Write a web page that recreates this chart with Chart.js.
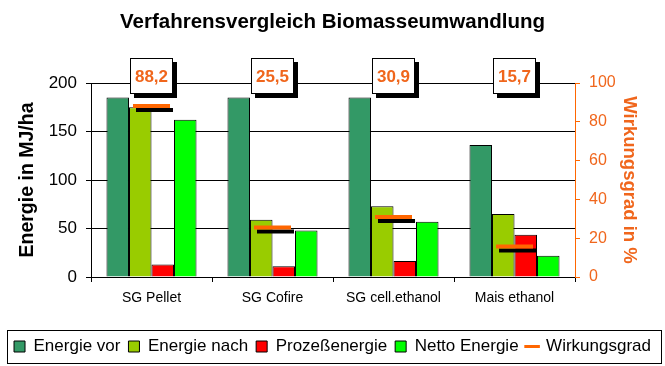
<!DOCTYPE html>
<html><head><meta charset="utf-8">
<script src="https://cdn.jsdelivr.net/npm/chart.js@4/dist/chart.umd.min.js"></script>
<style>html,body{margin:0;padding:0;background:#fff}#wrap{width:665px;height:366px}</style>
</head><body><div id="wrap"><canvas id="c" width="665" height="366"></canvas></div>
<script>
const categories = ['SG Pellet', 'SG Cofire', 'SG cell.ethanol', 'Mais ethanol'];
const energieVor = [185, 185, 185, 136];
const energieNach = [175, 59, 73, 65];
const prozessenergie = [13, 11, 16.5, 43.5];
const nettoEnergie = [162, 48, 57, 22];
const wirkungsgrad = [88.2, 25.5, 30.9, 15.7];
const leftTicks = [0, 50, 100, 150, 200];
const rightTicks = [0, 20, 40, 60, 80, 100];

const ORANGE = '#FF6600';
const ORANGE_TXT = '#F0661C';
const FONT = '"Liberation Sans", Arial, sans-serif';

const labelBoxes = {
  id: 'labelBoxes',
  afterDatasetsDraw(chart) {
    const {ctx, chartArea, scales: {x}} = chart;
    ctx.save();
    ctx.font = 'bold 17px ' + FONT;
    wirkungsgrad.forEach((v, i) => {
      const cx = x.getPixelForValue(i);
      const w = 43, h = 36, top = chartArea.top - 25, left = Math.round(cx - w / 2);
      ctx.fillStyle = '#000';
      ctx.fillRect(left + 4, top + 4, w, h);
      ctx.fillStyle = '#fff';
      ctx.fillRect(left, top, w, h);
      ctx.strokeStyle = '#000';
      ctx.lineWidth = 1;
      ctx.strokeRect(left + 0.5, top + 0.5, w - 1, h - 1);
      ctx.fillStyle = ORANGE_TXT;
      ctx.textAlign = 'center';
      ctx.textBaseline = 'middle';
      ctx.fillText(v.toFixed(1).replace('.', ','), cx, top + h / 2 + 1);
    });
    ctx.restore();
  }
};

const lineShadow = {
  id: 'lineShadow',
  beforeDatasetDraw(chart, args) {
    if (chart.data.datasets[args.index].type === 'line') {
      const ctx = chart.ctx;
      ctx.save();
      ctx.shadowColor = '#000';
      ctx.shadowOffsetX = 3;
      ctx.shadowOffsetY = 4;
      ctx.shadowBlur = 0;
    }
  },
  afterDatasetDraw(chart, args) {
    if (chart.data.datasets[args.index].type === 'line') chart.ctx.restore();
  }
};

const legendBox = {
  id: 'legendBox',
  afterDraw(chart) {
    const lg = chart.legend;
    if (!lg || !lg.legendHitBoxes || !lg.legendHitBoxes.length) return;
    const hb = lg.legendHitBoxes;
    const minX = Math.min(...hb.map(b => b.left));
    const maxX = Math.max(...hb.map(b => b.left + b.width));
    const top = hb[0].top - 8, bottom = hb[0].top + hb[0].height + 8;
    const ctx = chart.ctx;
    ctx.save();
    ctx.strokeStyle = '#000';
    ctx.lineWidth = 1;
    ctx.strokeRect(Math.round(minX - 7) + 0.5, Math.round(top) + 0.5, Math.round(maxX - minX + 17), Math.round(bottom - top));
    ctx.restore();
  }
};

new Chart(document.getElementById('c'), {
  data: {
    labels: categories,
    datasets: [
      {type: 'bar', label: 'Energie vor', data: energieVor, backgroundColor: '#339966', borderColor: '#000', borderWidth: 1, yAxisID: 'y'},
      {type: 'bar', label: 'Energie nach', data: energieNach, backgroundColor: '#99CC00', borderColor: '#000', borderWidth: 1, yAxisID: 'y'},
      {type: 'bar', label: 'Prozeßenergie', data: prozessenergie, backgroundColor: '#FF0000', borderColor: '#000', borderWidth: 1, yAxisID: 'y'},
      {type: 'bar', label: 'Netto Energie', data: nettoEnergie, backgroundColor: '#00FF00', borderColor: '#000', borderWidth: 1, yAxisID: 'y'},
      {type: 'line', label: 'Wirkungsgrad', data: wirkungsgrad, yAxisID: 'y1', order: -1,
       showLine: false, pointStyle: 'line', pointRadius: 18.5, pointHoverRadius: 18.5,
       pointBorderWidth: 4, borderColor: ORANGE, backgroundColor: ORANGE}
    ]
  },
  options: {
    responsive: false,
    animation: false,
    devicePixelRatio: 1,
    layout: {padding: {left: 0, right: 0, top: 0, bottom: 1}},
    datasets: {bar: {categoryPercentage: 0.744, barPercentage: 1}},
    plugins: {
      tooltip: {enabled: false},
      title: {
        display: true, text: 'Verfahrensvergleich Biomasseumwandlung', color: '#000',
        font: {family: FONT, size: 20.5, weight: 'bold'}, padding: {top: 10, bottom: 48.4}
      },
      legend: {
        position: 'bottom',
        labels: {
          color: '#000', font: {family: FONT, size: 17}, usePointStyle: true,
          boxWidth: 11, boxHeight: 11, padding: 8,
          sort: (a, b) => a.datasetIndex - b.datasetIndex,
          generateLabels(chart) {
            const items = Chart.defaults.plugins.legend.labels.generateLabels(chart);
            items.forEach(it => {
              const ds = chart.data.datasets[it.datasetIndex];
              if (ds.type === 'line') {
                it.pointStyle = 'line'; it.strokeStyle = ORANGE; it.fillStyle = ORANGE; it.lineWidth = 3;
              } else {
                it.pointStyle = 'rect'; it.strokeStyle = '#000'; it.lineWidth = 1;
              }
            });
            return items;
          }
        }
      }
    },
    scales: {
      x: {
        type: 'category',
        grid: {offset: true, drawOnChartArea: false, color: '#000', tickLength: 5},
        border: {color: '#000'},
        ticks: {color: '#000', font: {family: FONT, size: 14}, padding: 8, maxRotation: 0},
        afterFit(s) { s.height = 53; }
      },
      y: {
        position: 'left', min: 0, max: 200,
        grid: {color: '#000', tickLength: 5},
        border: {color: '#000'},
        ticks: {color: '#000', font: {family: FONT, size: 17}, padding: 9},
        afterBuildTicks(s) { s.ticks = leftTicks.map(v => ({value: v})); },
        title: {display: true, text: 'Energie in MJ/ha', color: '#000', font: {family: FONT, size: 19.5, weight: 'bold'}, padding: {top: 16, bottom: 0}},
        afterFit(s) { s.width = 91; }
      },
      y1: {
        position: 'right', min: 0, max: 100,
        grid: {drawOnChartArea: false, color: ORANGE, tickLength: 5},
        border: {color: ORANGE},
        ticks: {color: ORANGE_TXT, font: {family: FONT, size: 16}, padding: 9},
        afterBuildTicks(s) { s.ticks = rightTicks.map(v => ({value: v})); },
        title: {display: true, text: 'Wirkungsgrad in %', color: ORANGE_TXT, font: {family: FONT, size: 18.5, weight: 'bold'}, padding: {top: 25, bottom: 0}},
        afterFit(s) { s.width = 90; }
      }
    }
  },
  plugins: [labelBoxes, lineShadow, legendBox]
});
</script>
</body></html>
